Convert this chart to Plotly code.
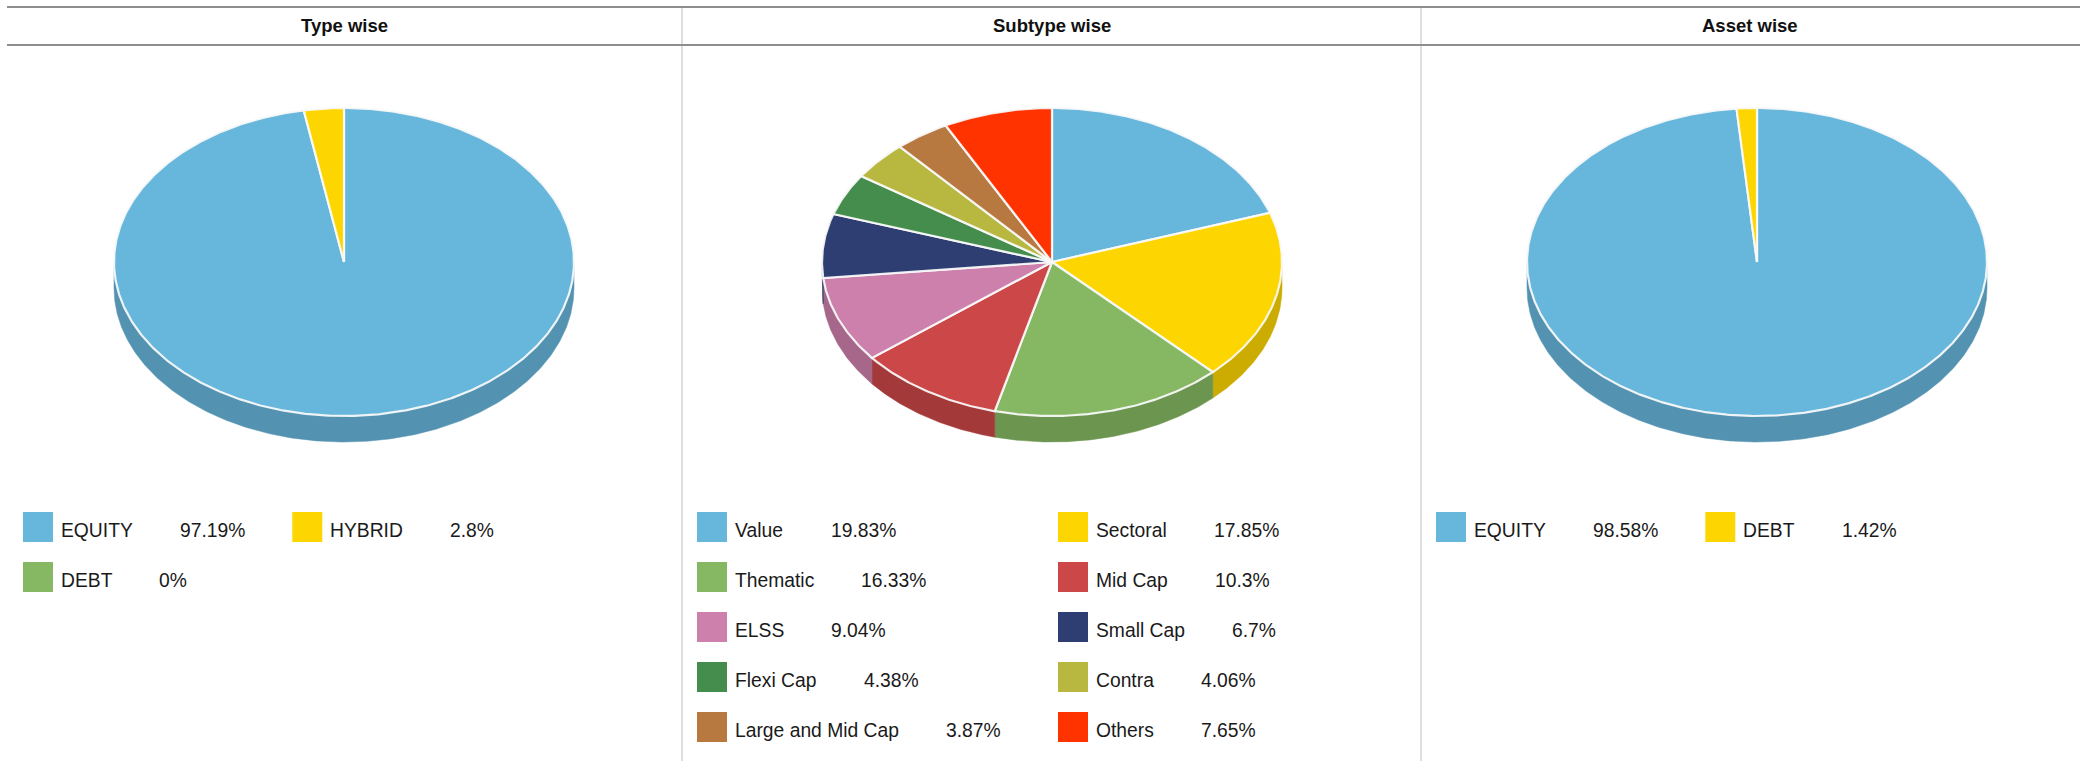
import numpy as np
import plotly.graph_objects as go

# ---------------- data ----------------
panel_titles = ["Type wise", "Subtype wise", "Asset wise"]

type_labels = ["EQUITY", "HYBRID", "DEBT"]
type_values = [97.19, 2.8, 0]

subtype_labels = ["Value", "Sectoral", "Thematic", "Mid Cap", "ELSS",
                  "Small Cap", "Flexi Cap", "Contra", "Large and Mid Cap", "Others"]
subtype_values = [19.83, 17.85, 16.33, 10.3, 9.04, 6.7, 4.38, 4.06, 3.87, 7.65]

asset_labels = ["EQUITY", "DEBT"]
asset_values = [98.58, 1.42]

# ---------------- styles ----------------
type_colors = ["#67B6DB", "#FDD500", "#86B863"]
subtype_colors = ["#67B6DB", "#FDD500", "#86B863", "#CB4748", "#CD80AB",
                  "#2F3E72", "#448D4D", "#B8B841", "#B87940", "#FF3300"]
asset_colors = ["#67B6DB", "#FDD500"]

W, H = 2080, 761
FONT = "Liberation Sans, Arial, sans-serif"
FS = 19.3
TEXT_COLOR = "#1a1a1a"

# layout config per panel (positions, not data)
panels = [
    dict(title=panel_titles[0], labels=type_labels, values=type_values, colors=type_colors,
         title_x=344, cx=344, legend_x=23, mode="flow", right=682),
    dict(title=panel_titles[1], labels=subtype_labels, values=subtype_values, colors=subtype_colors,
         title_x=1052, cx=1052, legend_x=697, mode="grid", colw=361),
    dict(title=panel_titles[2], labels=asset_labels, values=asset_values, colors=asset_colors,
         title_x=1750, cx=1757, legend_x=1436, mode="flow", right=2080),
]
CY, RX, RY, DEPTH = 262, 230, 154, 26
ROW_Y0, ROW_STEP, SQ = 527, 50, 30
LBL_OFF, VAL_GAP, ITEM_GAP = 37, 47, 48
TEXT_DY = 3.5

# Arial / Liberation Sans advance widths (per 1000 em)
AW = {' ': 278, '.': 278, '%': 889, 'A': 667, 'B': 667, 'C': 722, 'D': 722, 'E': 667,
      'F': 611, 'G': 778, 'H': 722, 'I': 278, 'J': 500, 'K': 667, 'L': 556, 'M': 833,
      'N': 722, 'O': 778, 'P': 667, 'Q': 778, 'R': 722, 'S': 667, 'T': 611, 'U': 722,
      'V': 667, 'W': 944, 'X': 667, 'Y': 667, 'Z': 611, 'a': 556, 'b': 556, 'c': 500,
      'd': 556, 'e': 556, 'f': 278, 'g': 556, 'h': 556, 'i': 222, 'j': 222, 'k': 500,
      'l': 222, 'm': 833, 'n': 556, 'o': 556, 'p': 556, 'q': 556, 'r': 333, 's': 500,
      't': 278, 'u': 556, 'v': 500, 'w': 722, 'x': 500, 'y': 500, 'z': 500}
for d in "0123456789":
    AW[d] = 556


def text_w(s, size=FS):
    return sum(AW.get(ch, 556) for ch in s) * size / 1000.0


def darker(hexc, f=0.81):
    hexc = hexc.lstrip("#")
    r, g, b = (int(hexc[i:i + 2], 16) for i in (0, 2, 4))
    return "#%02X%02X%02X" % (int(r * f), int(g * f), int(b * f))


def rim(cx, t):
    return cx + RX * np.sin(t), CY - RY * np.cos(t)


fig = go.Figure()
side_traces, top_traces = [], []
shapes, annotations = [], []

for p in panels:
    vals = np.array(p["values"], dtype=float)
    total = vals.sum()
    cum = np.concatenate([[0], np.cumsum(vals)]) / total * 2 * np.pi
    for i, v in enumerate(vals):
        if v <= 0:
            continue
        a0, a1 = cum[i], cum[i + 1]
        n = max(3, int((a1 - a0) / (2 * np.pi) * 720))
        t = np.linspace(a0, a1, n)
        # side wall (front half only)
        s0, s1 = max(a0, np.pi / 2), min(a1, 3 * np.pi / 2)
        if s1 > s0:
            ts = np.linspace(s0, s1, max(3, int((s1 - s0) / (2 * np.pi) * 720)))
            xs, ys = rim(p["cx"], ts)
            px = np.concatenate([xs, xs[::-1], xs[:1]])
            py = np.concatenate([ys, ys[::-1] + DEPTH, ys[:1]])
            side_traces.append(go.Scatter(
                x=px, y=py, mode="lines", fill="toself",
                fillcolor=darker(p["colors"][i]),
                line=dict(color=darker(p["colors"][i]), width=0.5),
                hoverinfo="skip", showlegend=False))
        xs, ys = rim(p["cx"], t)
        px = np.concatenate([[p["cx"]], xs, [p["cx"]]])
        py = np.concatenate([[CY], ys, [CY]])
        top_traces.append(go.Scatter(
            x=px, y=py, mode="lines", fill="toself",
            fillcolor=p["colors"][i],
            line=dict(color="rgba(250,250,250,0.92)", width=2.2),
            hoverinfo="skip", showlegend=False, name=p["labels"][i]))

    # title
    annotations.append(dict(x=p["title_x"], y=25, xref="x", yref="y", text="<b>%s</b>" % p["title"],
                            showarrow=False, xanchor="center", yanchor="middle", borderpad=0,
                            font=dict(family=FONT, size=18.5, color="#111111")))

    # legend
    x = p["legend_x"]
    row = 0
    for i, (lab, v) in enumerate(zip(p["labels"], p["values"])):
        vtxt = "%g%%" % v
        if p["mode"] == "grid":
            ix = p["legend_x"] + (i % 2) * p["colw"]
            row = i // 2
        else:
            item_w = LBL_OFF + text_w(lab) + VAL_GAP + text_w(vtxt)
            if x + item_w > p["right"] and x != p["legend_x"]:
                row += 1
                x = p["legend_x"]
            ix = x
            x = ix + item_w + ITEM_GAP
        yc = ROW_Y0 + row * ROW_STEP
        shapes.append(dict(type="rect", xref="x", yref="y", x0=ix, x1=ix + SQ,
                           y0=yc - SQ / 2, y1=yc + SQ / 2, fillcolor=p["colors"][i],
                           line=dict(width=0), layer="above"))
        lx = ix + LBL_OFF
        annotations.append(dict(x=lx, y=yc + TEXT_DY, xref="x", yref="y", text=lab, showarrow=False,
                                xanchor="left", yanchor="middle", borderpad=0,
                                font=dict(family=FONT, size=FS, color=TEXT_COLOR)))
        annotations.append(dict(x=lx + text_w(lab) + VAL_GAP, y=yc + TEXT_DY, xref="x", yref="y",
                                text=vtxt, showarrow=False, xanchor="left", yanchor="middle",
                                borderpad=0, font=dict(family=FONT, size=FS, color=TEXT_COLOR)))

for tr in side_traces + top_traces:
    fig.add_trace(tr)

# frame lines
for yy in (7, 45):
    shapes.append(dict(type="line", xref="x", yref="y", x0=7, x1=W, y0=yy, y1=yy,
                       line=dict(color="#8E8E8E", width=2), layer="above"))
for xx in (682, 1421):
    shapes.append(dict(type="line", xref="x", yref="y", x0=xx, x1=xx, y0=8, y1=H,
                       line=dict(color="#DEDEDE", width=2), layer="below"))

fig.update_layout(
    width=W, height=H, margin=dict(l=0, r=0, t=0, b=0),
    paper_bgcolor="white", plot_bgcolor="white",
    xaxis=dict(range=[0, W], visible=False, fixedrange=True),
    yaxis=dict(range=[H, 0], visible=False, fixedrange=True),
    shapes=shapes, annotations=annotations, showlegend=False,
    hovermode=False,
)

fig.write_html("out.html", config={"displayModeBar": False},
               post_script="document.body.style.margin='0';document.body.style.overflow='hidden';")
